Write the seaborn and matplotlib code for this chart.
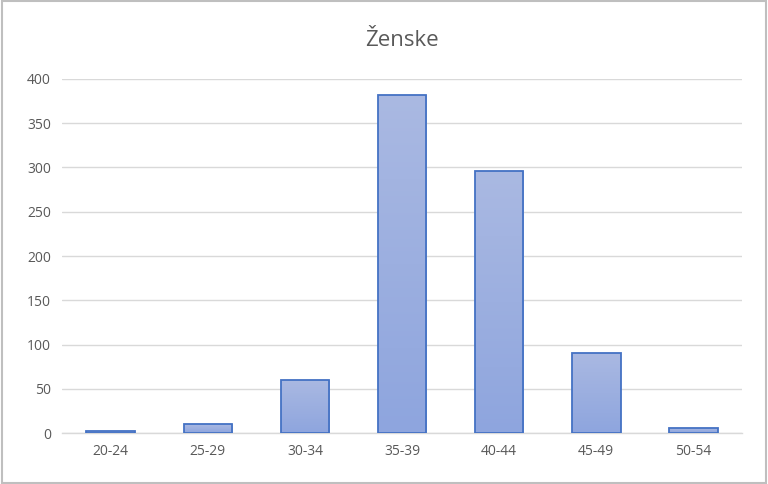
import numpy as np
import pandas as pd
import matplotlib
matplotlib.use("Agg")
import matplotlib.pyplot as plt
import seaborn as sns

# data
age_groups = ["20-24", "25-29", "30-34", "35-39", "40-44", "45-49", "50-54"]
counts = [2, 10, 60, 382, 296, 91, 6]
y_ticks = [0, 50, 100, 150, 200, 250, 300, 350, 400]

df = pd.DataFrame({"group": age_groups, "count": counts})

sns.set_theme(style="white")
plt.rcParams["font.family"] = ["Open Sans", "DejaVu Sans"]

fig = plt.figure(figsize=(7.68, 4.84), dpi=100)
ax = fig.add_axes([0.081, 0.105, 0.885, 0.732])

sns.barplot(data=df, x="group", y="count", ax=ax, width=0.5,
            color="#9daedf", edgecolor="#4472c4", linewidth=1.3, zorder=3)

# vertical gradient inside each bar (lighter at top)
grad = np.linspace(0, 1, 256).reshape(-1, 1)
cmap = matplotlib.colors.LinearSegmentedColormap.from_list(
    "bar", ["#8ea5de", "#aab9e2"])
for p in ax.patches:
    x0, y0 = p.get_x(), p.get_y()
    w, h = p.get_width(), p.get_height()
    im = ax.imshow(grad, cmap=cmap, origin="lower", aspect="auto",
                   extent=[x0, x0 + w, y0, y0 + h], zorder=3.5)
    im.set_clip_path(p)
    p.set_facecolor("none")
    p.set_zorder(4)

ax.set_xlim(-0.5, len(age_groups) - 0.5)
ax.set_ylim(0, 400)
ax.set_yticks(y_ticks)
ax.yaxis.grid(True, color="#d9d9d9", linewidth=1, zorder=0)
ax.set_axisbelow(True)

for s in ["top", "right", "left"]:
    ax.spines[s].set_visible(False)
ax.spines["bottom"].set_color("#d9d9d9")
ax.spines["bottom"].set_linewidth(1)

ax.tick_params(axis="both", length=0, labelsize=10, colors="#595959", pad=8)
ax.set_xlabel("")
ax.set_ylabel("")
ax.set_title("Ženske", fontsize=16, color="#595959", pad=24)

# light frame around the chart area
fig.patches.append(plt.Rectangle((0.002, 0.002), 0.996, 0.996,
                                 transform=fig.transFigure, fill=False,
                                 edgecolor="#bfbfbf", linewidth=1.5))

fig.savefig("out.png", dpi=100)
